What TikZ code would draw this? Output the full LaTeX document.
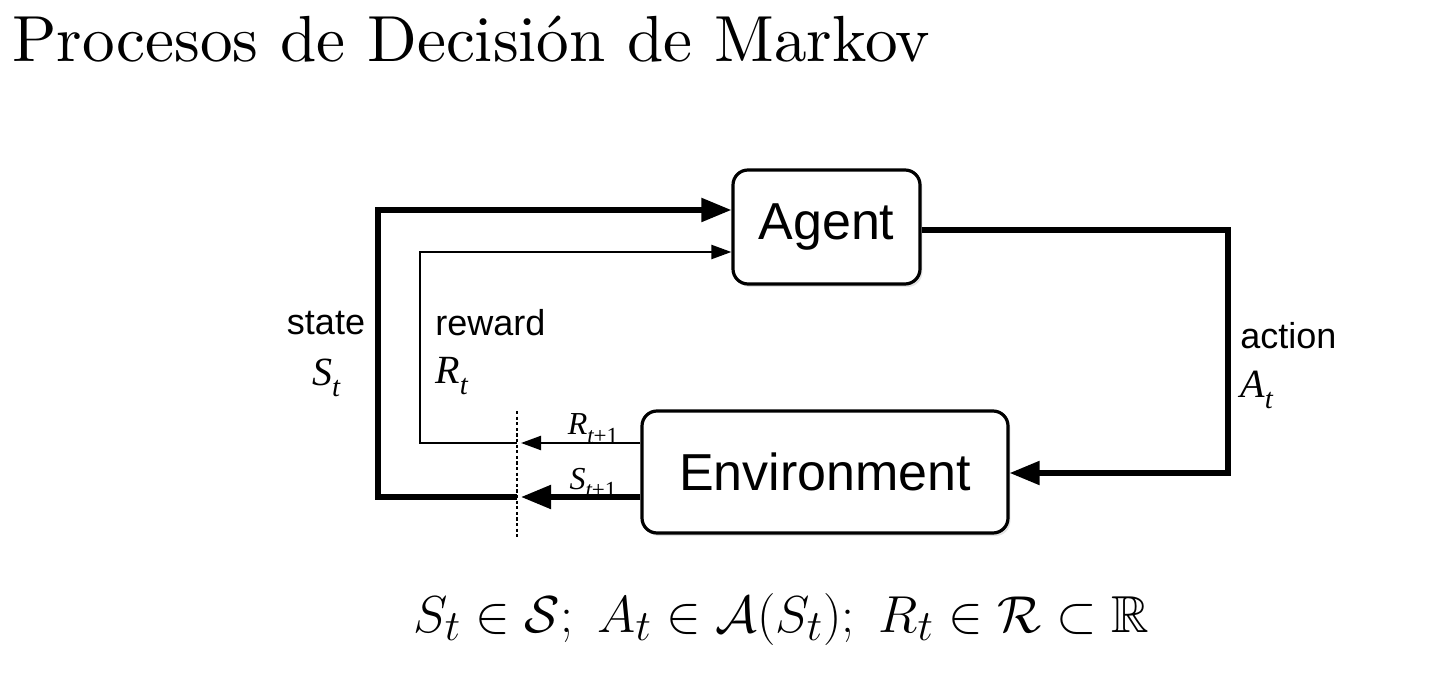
\documentclass[tikz,border=0pt]{standalone}
\usepackage{amssymb}
\usepackage{fontspec}
\newfontfamily\hsf{Liberation Sans}
\newfontfamily\tms{Liberation Serif}
\usetikzlibrary{arrows.meta,shadows}
\newcommand\mlab[2]{{\tms\itshape #1\raisebox{-0.6ex}{\fontsize{0.72em}{1em}\selectfont #2}}}
\tikzset{
  box/.style={draw,line width=1.6pt,rounded corners=7.5pt,fill=white,
    drop shadow={opacity=0.22,shadow xshift=1.2pt,shadow yshift=-1.5pt},
    font=\hsf\fontsize{26}{30}\selectfont,inner sep=0pt},
  thk/.style={line width=2.6pt},
  thn/.style={line width=1.1pt},
  bigtip/.style={-{Triangle[length=15pt,width=11.5pt]}},
  smalltip/.style={-{Triangle[length=10pt,width=7pt]}},
  lab/.style={font=\hsf\fontsize{18}{22}\selectfont,inner sep=0pt},
  mlabel/.style={font=\fontsize{20}{24}\selectfont,inner sep=0pt},
  slabel/.style={font=\fontsize{16}{19}\selectfont,inner sep=0pt}
}
\begin{document}
\begin{tikzpicture}[x=0.5pt,y=-0.5pt]
\useasboundingbox (0,0) rectangle (1449,683);
% title
\node[anchor=base west,inner sep=0pt] (title) at (12,62) {\scalebox{3.26}{\fontsize{10}{12}\selectfont Procesos de Decisión de Markov}};
% boxes
\node[box,minimum width=93.5pt,minimum height=57pt] (agent) at (826.5,227) {Agent};
\node[box,minimum width=183pt,minimum height=61pt] (env) at (825,472) {Environment};
% helper coordinates
\coordinate (sCut) at (517,497);
\coordinate (sL) at (378,497);
\coordinate (sT) at (378,210);
\coordinate (rCut) at (517,443);
\coordinate (rL) at (420,443);
\coordinate (rT) at (420,252);
\coordinate (aTop) at (1228,230);
\coordinate (aBot) at (1228,473);
\coordinate (dTop) at (517,411);
\coordinate (dBot) at (517,537);
% state loop
\draw[thk,bigtip] (sCut) -- (sL) -- (sT) -- (sT -| agent.west);
% reward loop
\draw[thn,smalltip] (rCut) -- (rL) -- (rT) -- (rT -| agent.west);
% env outputs
\draw[thk,bigtip] (env.west |- sCut) -- ([xshift=2pt]sCut);
\draw[thn,smalltip] (env.west |- rCut) -- ([xshift=2pt]rCut);
% dashed separator
\draw[line width=0.7pt,dash pattern=on 1.6pt off 1.2pt] (dTop) -- (dBot);
% action
\draw[thk,bigtip] (agent.east |- aTop) -- (aTop) -- (aBot) -- (env.east |- aBot);
% labels
\node[lab] (stateL) at (326,323) {state};
\node[mlabel] (stateM) at (326,378) {\mlab{S}{t}};
\node[lab,anchor=west] (rewardL) at (435,323) {reward};
\node[mlabel,anchor=west] (rewardM) at (435,376) {\mlab{R}{t}};
\node[lab,anchor=west] (actionL) at (1240,336) {action};
\node[mlabel,anchor=west] (actionM) at (1240,390) {\mlab{A}{t}};
\node[slabel] (rNext) at (593,429) {\mlab{R}{t\upshape+1}};
\node[slabel] (sNext) at (593,483) {\mlab{S}{t\upshape+1}};
% formula
\node[anchor=base,inner sep=0pt] (formula) at (781,632)
  {\scalebox{1.045}{\fontsize{24.88}{30}\selectfont $S_t \in \mathcal{S};\ A_t \in \mathcal{A}(S_t);\ R_t \in \mathcal{R} \subset \mathbb{R}$}};
\end{tikzpicture}
\end{document}
